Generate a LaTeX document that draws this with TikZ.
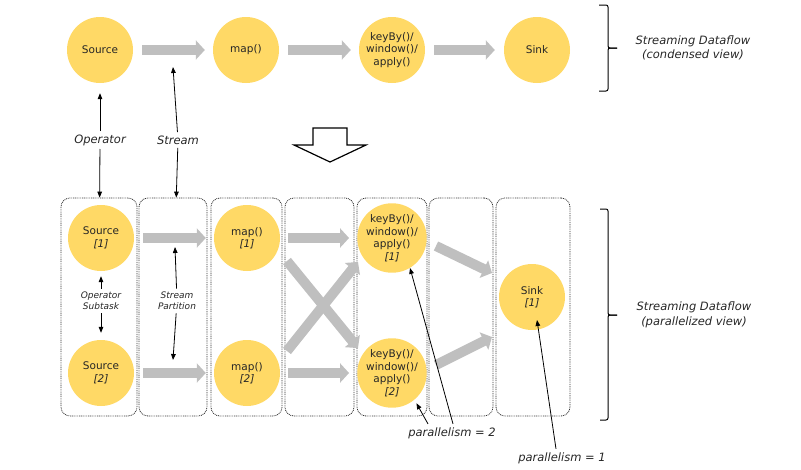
\documentclass[tikz,border=0pt]{standalone}
\usepackage{fontspec}
\setmainfont{DejaVu Sans}
\usetikzlibrary{arrows.meta}
\definecolor{opyellow}{RGB}{255,217,102}

\begin{document}
\begin{tikzpicture}[
        % Unités en pixels, axe y vers le bas
        x=1pt, y=-1pt,
        every node/.style = {text=black!85},
        % Style des opérateurs (cercles jaunes)
        opnode/.style = {
            circle,
            fill=opyellow,
            minimum size=66pt,
            inner sep=0pt,
            align=center,
            font=\fontsize{10.5}{12.5}\selectfont
        },
        % Style des colonnes pointillées
        lane/.style = {
            draw=black!80,
            line width=0.8pt,
            dash pattern=on 0.9pt off 0.9pt,
            rounded corners=9pt,
            minimum height=218pt,
            inner sep=0pt
        },
        % Étiquettes
        lbl/.style = {font=\itshape\fontsize{11.5}{14.5}\selectfont, align=center},
        sublbl/.style = {font=\itshape\fontsize{9}{10.7}\selectfont, align=center},
        % Flèches grises épaisses (flux)
        flow/.style = {
            -{Triangle[length=9pt, width=19pt]},
            line width=10pt,
            draw=gray!50
        },
        % Flèches fines d'annotation
        ann/.style = {
            -{Triangle[length=6pt, width=4.6pt]},
            line width=0.8pt,
            draw=black
        },
        brace/.style = {line width=1pt, rounded corners=2pt}
    ]
        \useasboundingbox (0,0) rectangle (801,469);

        % 1. Vue condensée
        \node (src)  [opnode] at (100,50)   {Source};
        \node (map)  [opnode] at (246,50)   {map()};
        \node (key)  [opnode] at (392,50)   {keyBy()/\\window()/\\apply()};
        \node (sink) [opnode] at (537,50)   {Sink};

        \draw [flow, shorten <=9pt, shorten >=8pt] (src) -- (map);
        \draw [flow, shorten <=9pt, shorten >=8pt] (map) -- (key);
        \draw [flow, shorten <=9pt, shorten >=9pt] (key) -- (sink);

        \draw [brace] (599,5) -| (608,48) -- (617,48);
        \draw [brace] (617,48) -- (608,48) |- (599,91);
        \node (cv) [lbl] at (693,48) {Streaming Dataflow\\(condensed view)};

        % 2. Colonnes de la vue parallélisée
        \node (b1) [lane, minimum width=76pt] at (99,307)    {};
        \node (b2) [lane, minimum width=68pt] at (173,307)   {};
        \node (b3) [lane, minimum width=71pt] at (246.5,307) {};
        \node (b4) [lane, minimum width=69pt] at (319.5,307) {};
        \node (b5) [lane, minimum width=70pt] at (392,307)   {};
        \node (b6) [lane, minimum width=64pt] at (461,307)   {};
        \node (b7) [lane, minimum width=74pt] at (533,307)   {};

        % 3. Sous-tâches
        \node (s1) [opnode] at (101,238) {Source\\\textit{[1]}};
        \node (s2) [opnode] at (101,373) {Source\\\textit{[2]}};
        \node (m1) [opnode] at (247,238) {map()\\\textit{[1]}};
        \node (m2) [opnode] at (247,373) {map()\\\textit{[2]}};
        \node (k1) [opnode] at (392,238) {keyBy()/\\window()/\\apply()\\\textit{[1]}};
        \node (k2) [opnode] at (392,373) {keyBy()/\\window()/\\apply()\\\textit{[2]}};
        \node (sk) [opnode] at (532,297) {Sink\\\textit{[1]}};

        \draw [flow, shorten <=9pt, shorten >=8pt] (s1) -- (m1);
        \draw [flow, shorten <=9pt, shorten >=8pt] (s2) -- (m2);
        \draw [flow, shorten <=8pt, shorten >=8pt] (m1) -- (k1);
        \draw [flow, shorten <=8pt, shorten >=8pt] (m2) -- (k2);

        % Flèches croisées et vers le puits
        \coordinate (xa1) at (287,261);
        \coordinate (xa2) at (358,348);
        \coordinate (xb1) at (287,351);
        \coordinate (xb2) at (358,262);
        \coordinate (ya1) at (436,246);
        \coordinate (ya2) at (492,273);
        \coordinate (yb1) at (436,365);
        \coordinate (yb2) at (492,337);
        \draw [flow] (xa1) -- (xa2);
        \draw [flow] (xb1) -- (xb2);
        \draw [flow] (ya1) -- (ya2);
        \draw [flow] (yb1) -- (yb2);

        \draw [brace] (600,209) -| (608,315) -- (617,315);
        \draw [brace] (617,315) -- (608,315) |- (600,420);
        \node (pv) [lbl] at (694,315) {Streaming Dataflow\\(parallelized view)};

        % 4. Annotations
        \node (opl) [lbl] at (100,140) {Operator};
        \node (stl) [lbl] at (178,140) {Stream};
        \coordinate (strtop) at (173,67);
        \draw [ann, shorten >=10pt] (opl) -- (src);
        \draw [ann] (opl) -- (b1);
        \draw [ann] (stl) -- (strtop);
        \draw [ann] (stl) -- (b2);

        \draw [line width=1.2pt, fill=white]
            (313,128) -- (347,128) -- (347,145) -- (366,145)
            -- (330,162) -- (294,145) -- (313,145) -- cycle;

        \node (osl) [sublbl] at (101,301) {Operator\\Subtask};
        \node (spl) [sublbl] at (177,301) {Stream\\Partition};
        \coordinate (sptop) at (175,247);
        \coordinate (spbot) at (173,360);
        \draw [ann, shorten >=5pt] (osl) -- (s1);
        \draw [ann, shorten >=7pt] (osl) -- (s2);
        \draw [ann] (spl) -- (sptop);
        \draw [ann] (spl) -- (spbot);

        \node (p2) [lbl] at (452,433) {parallelism = 2};
        \node (p1) [lbl] at (562,458) {parallelism = 1};
        \draw [ann] ([xshift=1pt]p2.north) -- (k1.-59);
        \draw [ann, shorten >=4pt] ([xshift=-24pt]p2.north) -- (k2.-50);
        \draw [ann] ([xshift=-6pt]p1.north) -- ([shift={(5,23)}]sk.center);

    \end{tikzpicture}
\end{document}
